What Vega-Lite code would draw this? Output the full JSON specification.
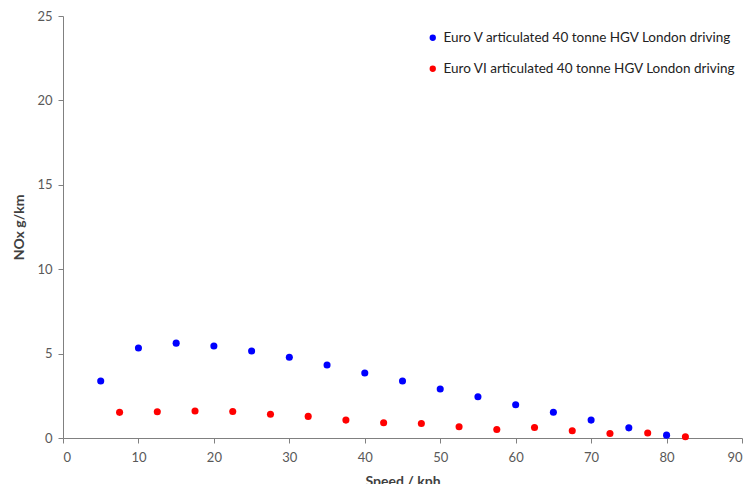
{
  "$schema": "https://vega.github.io/schema/vega-lite/v6.json",
  "autosize": "none",
  "width": 679,
  "height": 422,
  "padding": {"left": 63, "top": 16, "right": 10, "bottom": 46},
  "config": {
    "view": {"stroke": null},
    "font": "Lato",
    "axis": {"grid": false, "domainColor": "#808080", "tickColor": "#808080", "tickSize": 5, "labelColor": "#595959", "labelFontSize": 13, "titleColor": "#404040", "titleFontSize": 14, "titleFontWeight": "bold", "labelFont": "Lato", "titleFont": "Lato"}
  },
  "data": {"values": [
    {"speed": 5, "nox": 3.38, "series": "Euro V articulated 40 tonne HGV London driving"},
    {"speed": 10, "nox": 5.33, "series": "Euro V articulated 40 tonne HGV London driving"},
    {"speed": 15, "nox": 5.62, "series": "Euro V articulated 40 tonne HGV London driving"},
    {"speed": 20, "nox": 5.45, "series": "Euro V articulated 40 tonne HGV London driving"},
    {"speed": 25, "nox": 5.15, "series": "Euro V articulated 40 tonne HGV London driving"},
    {"speed": 30, "nox": 4.78, "series": "Euro V articulated 40 tonne HGV London driving"},
    {"speed": 35, "nox": 4.32, "series": "Euro V articulated 40 tonne HGV London driving"},
    {"speed": 40, "nox": 3.85, "series": "Euro V articulated 40 tonne HGV London driving"},
    {"speed": 45, "nox": 3.38, "series": "Euro V articulated 40 tonne HGV London driving"},
    {"speed": 50, "nox": 2.9, "series": "Euro V articulated 40 tonne HGV London driving"},
    {"speed": 55, "nox": 2.44, "series": "Euro V articulated 40 tonne HGV London driving"},
    {"speed": 60, "nox": 1.97, "series": "Euro V articulated 40 tonne HGV London driving"},
    {"speed": 65, "nox": 1.53, "series": "Euro V articulated 40 tonne HGV London driving"},
    {"speed": 70, "nox": 1.06, "series": "Euro V articulated 40 tonne HGV London driving"},
    {"speed": 75, "nox": 0.6, "series": "Euro V articulated 40 tonne HGV London driving"},
    {"speed": 80, "nox": 0.17, "series": "Euro V articulated 40 tonne HGV London driving"},
    {"speed": 7.5, "nox": 1.52, "series": "Euro VI articulated 40 tonne HGV London driving"},
    {"speed": 12.5, "nox": 1.56, "series": "Euro VI articulated 40 tonne HGV London driving"},
    {"speed": 17.5, "nox": 1.6, "series": "Euro VI articulated 40 tonne HGV London driving"},
    {"speed": 22.5, "nox": 1.57, "series": "Euro VI articulated 40 tonne HGV London driving"},
    {"speed": 27.5, "nox": 1.41, "series": "Euro VI articulated 40 tonne HGV London driving"},
    {"speed": 32.5, "nox": 1.28, "series": "Euro VI articulated 40 tonne HGV London driving"},
    {"speed": 37.5, "nox": 1.06, "series": "Euro VI articulated 40 tonne HGV London driving"},
    {"speed": 42.5, "nox": 0.9, "series": "Euro VI articulated 40 tonne HGV London driving"},
    {"speed": 47.5, "nox": 0.86, "series": "Euro VI articulated 40 tonne HGV London driving"},
    {"speed": 52.5, "nox": 0.67, "series": "Euro VI articulated 40 tonne HGV London driving"},
    {"speed": 57.5, "nox": 0.5, "series": "Euro VI articulated 40 tonne HGV London driving"},
    {"speed": 62.5, "nox": 0.62, "series": "Euro VI articulated 40 tonne HGV London driving"},
    {"speed": 67.5, "nox": 0.43, "series": "Euro VI articulated 40 tonne HGV London driving"},
    {"speed": 72.5, "nox": 0.27, "series": "Euro VI articulated 40 tonne HGV London driving"},
    {"speed": 77.5, "nox": 0.3, "series": "Euro VI articulated 40 tonne HGV London driving"},
    {"speed": 82.5, "nox": 0.07, "series": "Euro VI articulated 40 tonne HGV London driving"}
  ]},
  "mark": {"type": "circle", "size": 50, "opacity": 1},
  "encoding": {
    "x": {"field": "speed", "type": "quantitative", "title": "Speed / kph", "scale": {"domain": [0, 90], "nice": false}, "axis": {"values": [0,10,20,30,40,50,60,70,80,90], "titlePadding": 10, "labelPadding": 8}},
    "y": {"field": "nox", "type": "quantitative", "title": "NOx g/km", "scale": {"domain": [0, 25], "nice": false}, "axis": {"values": [0,5,10,15,20,25], "titlePadding": 10, "labelPadding": 6}},
    "color": {"field": "series", "type": "nominal", "title": null,
      "scale": {"domain": ["Euro V articulated 40 tonne HGV London driving", "Euro VI articulated 40 tonne HGV London driving"], "range": ["#0000FF", "#FF0000"]},
      "legend": {"orient": "none", "legendX": 363, "legendY": 15, "symbolType": "circle", "symbolSize": 40, "labelFontSize": 13.5, "labelColor": "#222222", "labelFont": "Lato", "rowPadding": 16, "labelOffset": 4, "labelLimit": 400}}
  }
}
